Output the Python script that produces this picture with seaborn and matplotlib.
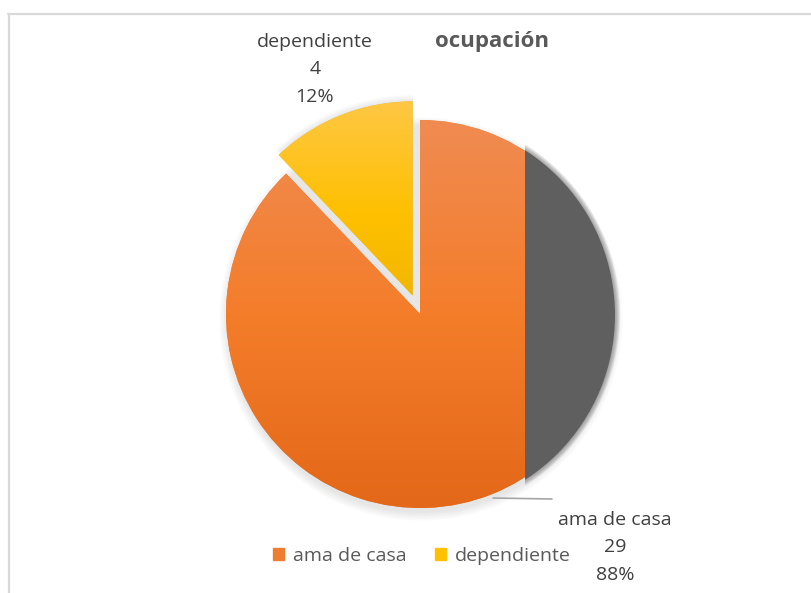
import numpy as np
import matplotlib
matplotlib.use("Agg")
import matplotlib.pyplot as plt
import matplotlib.patches as mpatches
from matplotlib.colors import LinearSegmentedColormap
import seaborn as sns

# --- datos ---
categorias = ["ama de casa", "dependiente"]
valores = [29, 4]
porcentajes = ["88%", "12%"]
colores = ["#ED7D31", "#FFC000"]
titulo = "ocupación"

sns.set_theme(style="white")
plt.rcParams["font.family"] = ["Open Sans", "DejaVu Sans"]

W, H = 812, 593
fig = plt.figure(figsize=(W / 100, H / 100), dpi=100)
ax = fig.add_axes([0, 0, 1, 1])

# coordenadas en pixeles (y hacia arriba)
cx, cy, r = 420, H - 314, 194

# explode en unidades de datos (pixeles)
wedges, _ = ax.pie(valores, colors=colores, startangle=90, counterclock=False,
                   explode=[0, 20], radius=r, center=(cx, cy),
                   wedgeprops=dict(linewidth=0))

# degradado vertical dentro de cada sector (abajo -> medio -> arriba)
grad = np.linspace(0, 1, 256).reshape(-1, 1)
degradados = [["#E36819", "#F47D2A", "#F08B52"],
              ["#EDB300", "#FFC000", "#FEC745"]]
for w, stops in zip(wedges, degradados):
    cmap = LinearSegmentedColormap.from_list("g", stops)
    if w is wedges[0]:
        ext = [cx - r, cx + r, cy - r, cy + r]
    else:
        ext = [cx - r, cx + r, cy - 15, cy + r + 20]
    im = ax.imshow(grad, cmap=cmap, origin="lower", aspect="auto",
                   extent=ext, zorder=2)
    im.set_clip_path(w)

# sombra suave debajo
for k in range(6):
    ax.add_patch(mpatches.Circle((cx + 1, cy - 5), r + k * 1.5, color="#8c8c8c",
                                 alpha=0.035, lw=0, zorder=0))
    ax.add_patch(mpatches.Wedge((cx - 7, cy + 19), r + k * 1.2, 90, 133.2,
                                color="#8c8c8c", alpha=0.035, lw=0, zorder=1))

# zona gris a la derecha
gx, gy, gr = 419, H - 315, 196
clip = mpatches.Rectangle((525, 0), 400, H, transform=ax.transData)
for k in range(5, -1, -1):
    c = mpatches.Circle((gx, gy), gr + k, color="#5f5f5f",
                        alpha=1.0 if k == 0 else 0.12, lw=0, zorder=3)
    ax.add_patch(c)
    c.set_clip_path(clip)

# etiquetas de datos (una linea por texto)
col_txt = "#404040"
for i, (x0, y0) in zip([1, 0], [(315, 42), (615, 520)]):
    for j, s in enumerate([categorias[i], str(valores[i]), porcentajes[i]]):
        ax.text(x0, H - (y0 + 27.5 * j), s, ha="center", va="center",
                fontsize=14, color=col_txt)
ax.plot([493, 552], [H - 498, H - 499], color="#A6A6A6", lw=1.2, zorder=4)

# titulo
ax.text(492, H - 41, titulo, ha="center", va="center", fontsize=16,
        fontweight="bold", color="#595959")

# leyenda
handles = [mpatches.Patch(color=c, label=l) for c, l in zip(colores, categorias)]
ax.legend(handles=handles, loc="center", bbox_to_anchor=(422 / W, 1 - 556 / H),
          ncol=2, frameon=False, fontsize=14, handlelength=0.55, handleheight=0.55,
          handletextpad=0.45, columnspacing=1.5, labelcolor="#595959")

# borde del grafico
ax.plot([8, W], [H - 14, H - 14], color="#D9D9D9", lw=1.6, zorder=5)
ax.plot([9, 9], [0, H - 14], color="#D9D9D9", lw=1.6, zorder=5)

ax.set_xlim(0, W)
ax.set_ylim(0, H)
ax.set_aspect("equal")
ax.axis("off")

fig.savefig("out.png", dpi=100)
